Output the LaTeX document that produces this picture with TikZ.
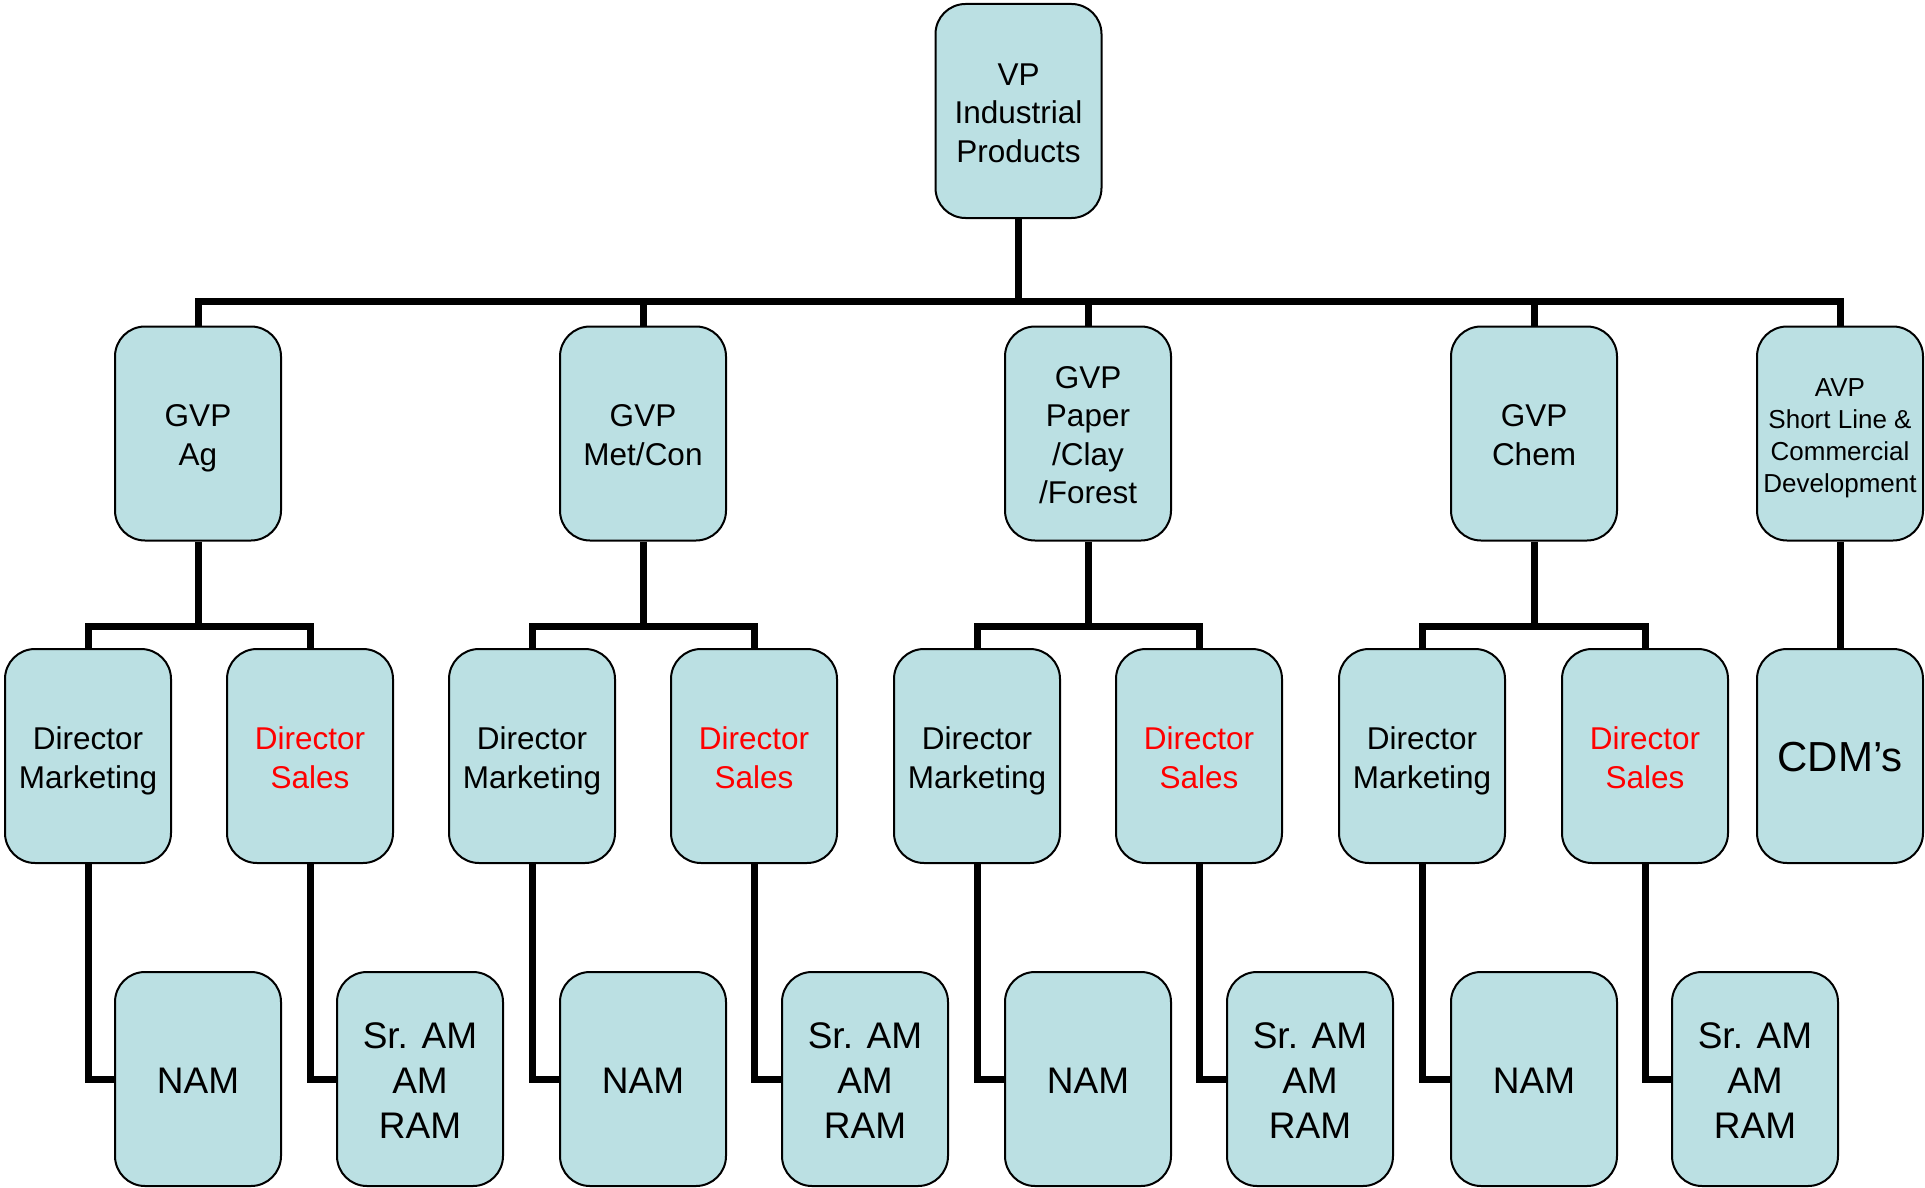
\documentclass[tikz,border=0pt]{standalone}
\usepackage{fontspec}
\setmainfont{Liberation Sans}
\definecolor{boxfill}{RGB}{187,224,227}
\newcommand\tst{\rule[-.17\baselineskip]{0pt}{\baselineskip}}
\begin{document}
\begin{tikzpicture}[x=1pt,y=-1pt,
  orgbox/.style={draw=black,line width=2pt,fill=boxfill,rounded corners=30pt,
    minimum width=166pt,minimum height=214pt,inner sep=0pt,align=center},
  midtext/.style={font=\fontsize{31.5}{38.5}\selectfont},
  dirtext/.style={font=\fontsize{31.5}{39}\selectfont},
  bigtext/.style={font=\fontsize{37}{45}\selectfont},
  smalltext/.style={font=\fontsize{26}{32}\selectfont},
  conn/.style={line width=7pt,line join=miter,draw=black}]
\useasboundingbox (0,0) rectangle (1925,1188);
\coordinate (bus) at (0,301);
\coordinate (sb) at (0,626);
% top
\node[orgbox,midtext] (vp) at (1018.5,111) {\tst VP\\Industrial\\Products\tst};
% level 2
\node[orgbox,midtext] (g1) at (198,433.5) {\tst GVP\\Ag\tst};
\node[orgbox,midtext] (g2) at (643,433.5) {\tst GVP\\Met/Con\tst};
\node[orgbox,midtext] (g3) at (1088,433.5) {\tst GVP\\Paper\\/Clay\\/Forest\tst};
\node[orgbox,midtext] (g4) at (1534,433.5) {\tst GVP\\Chem\tst};
\node[orgbox,smalltext] (g5) at (1840,433.5) {\tst AVP\\Short Line \&\\Commercial\\Development\tst};
% level 3
\node[orgbox,dirtext] (dm1) at (88,756) {\tst Director\\Marketing\tst};
\node[orgbox,dirtext,text=red] (ds1) at (310,756) {\tst Director\\Sales\tst};
\node[orgbox,dirtext] (dm2) at (532,756) {\tst Director\\Marketing\tst};
\node[orgbox,dirtext,text=red] (ds2) at (754,756) {\tst Director\\Sales\tst};
\node[orgbox,dirtext] (dm3) at (977,756) {\tst Director\\Marketing\tst};
\node[orgbox,dirtext,text=red] (ds3) at (1199,756) {\tst Director\\Sales\tst};
\node[orgbox,dirtext] (dm4) at (1422,756) {\tst Director\\Marketing\tst};
\node[orgbox,dirtext,text=red] (ds4) at (1645,756) {\tst Director\\Sales\tst};
\node[orgbox,font=\fontsize{42}{48}\selectfont] (cdm) at (1840,756) {\tst CDM’s};
% level 4
\node[orgbox,bigtext] (n1) at (198,1079) {\tst NAM};
\node[orgbox,bigtext] (s1) at (420,1079) {\tst Sr. AM\\AM\\RAM\tst};
\node[orgbox,bigtext] (n2) at (643,1079) {\tst NAM};
\node[orgbox,bigtext] (s2) at (865,1079) {\tst Sr. AM\\AM\\RAM\tst};
\node[orgbox,bigtext] (n3) at (1088,1079) {\tst NAM};
\node[orgbox,bigtext] (s3) at (1310,1079) {\tst Sr. AM\\AM\\RAM\tst};
\node[orgbox,bigtext] (n4) at (1534,1079) {\tst NAM};
\node[orgbox,bigtext] (s4) at (1755,1079) {\tst Sr. AM\\AM\\RAM\tst};
% connectors level 1-2
\draw[conn] (vp.south) -- (vp.south |- bus);
\draw[conn] (g1.north) -- (g1.north |- bus) -- (g5.north |- bus) -- (g5.north);
\draw[conn] (g2.north) -- (g2.north |- bus);
\draw[conn] (g3.north) -- (g3.north |- bus);
\draw[conn] (g4.north) -- (g4.north |- bus);
% level 2-3
\foreach \g/\m/\s in {g1/dm1/ds1,g2/dm2/ds2,g3/dm3/ds3,g4/dm4/ds4}{
  \draw[conn] (\g.south) -- (\g.south |- sb);
  \draw[conn] (\m.north) -- (\m.north |- sb) -- (\s.north |- sb) -- (\s.north);
}
\draw[conn] (g5.south) -- (cdm.north);
% level 3-4
\foreach \m/\n in {dm1/n1,ds1/s1,dm2/n2,ds2/s2,dm3/n3,ds3/s3,dm4/n4,ds4/s4}{
  \draw[conn] (\m.south) |- (\n.west);
}
\end{tikzpicture}
\end{document}
